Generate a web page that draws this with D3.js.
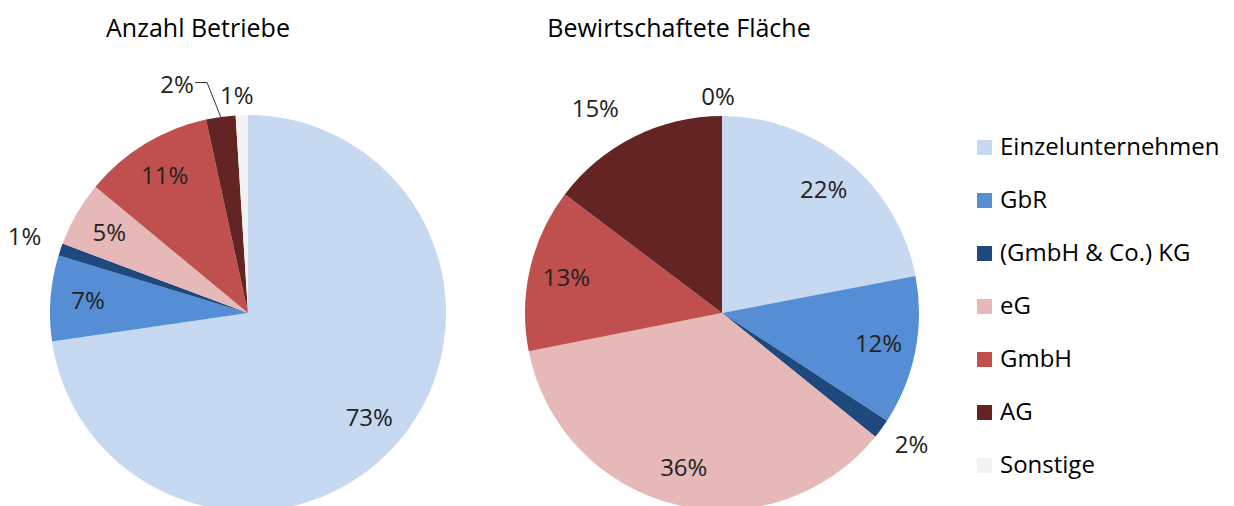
<!DOCTYPE html>
<html>
<head>
<meta charset="utf-8">
<script src="https://cdn.jsdelivr.net/npm/d3@7"></script>
<style>
  body { margin: 0; background: #fff; }
  svg { display: block; font-family: "Open Sans", "Noto Sans", sans-serif; }
  .title { font-size: 25px; fill: #000; }
  .lbl { font-size: 24px; fill: #222; }
  .legend text { font-size: 24px; fill: #000; }
</style>
</head>
<body>
<svg width="1234" height="506"></svg>
<script>
// categories (legend order = slice order, clockwise from 12 o'clock)
const categories = ["Einzelunternehmen", "GbR", "(GmbH & Co.) KG", "eG", "GmbH", "AG", "Sonstige"];
const colors = ["#c6d9f1", "#558ed5", "#1f497d", "#e6b9b8", "#c0504d", "#632423", "#f2f2f2"];

// shares in percent
const betriebe = [72.7, 7.0, 1.0, 5.3, 10.6, 2.4, 1.0];
const flaeche = [22.0, 12.2, 1.6, 36.1, 13.4, 14.7, 0.0];

const titles = ["Anzahl Betriebe", "Bewirtschaftete Fläche"];

let svg = d3.select("svg");

// layout: where each pie goes and which labels sit outside (with nudges)
let pies = [
  { title: titles[0], values: betriebe, cx: 248, cy: 313, r: 198, titleX: 198,
    outside: { 2: [-4, -2], 5: [-39, 1], 6: [-4, 14] }, leader: [5] },
  { title: titles[1], values: flaeche, cx: 722, cy: 313, r: 197, titleX: 679,
    outside: { 2: [3, -4], 5: [-24, 2], 6: [-4, 14] }, leader: [] }
];

let pie = d3.pie().sort(null).value(d => d).startAngle(0).endAngle(2 * Math.PI);

pies.forEach(function(p) {
  let g = svg.append("g").attr("transform", "translate(" + p.cx + "," + p.cy + ")");

  let arcs = pie(p.values);
  let arc = d3.arc().innerRadius(0).outerRadius(p.r);
  let inArc = d3.arc().innerRadius(p.r * 0.81).outerRadius(p.r * 0.81);
  let outArc = d3.arc().innerRadius(p.r * 1.17).outerRadius(p.r * 1.17);
  let edgeArc = d3.arc().innerRadius(p.r).outerRadius(p.r);

  g.selectAll("path.slice")
    .data(arcs)
    .enter().append("path")
    .attr("class", "slice")
    .attr("d", arc)
    .attr("fill", (d, i) => colors[i]);

  // percent labels
  arcs.forEach(function(d, i) {
    let pos, off = p.outside[i];
    if (off) {
      pos = outArc.centroid(d);
      pos = [pos[0] + off[0], pos[1] + off[1]];
    } else {
      pos = inArc.centroid(d);
    }
    g.append("text")
      .attr("class", "lbl")
      .attr("x", pos[0])
      .attr("y", pos[1])
      .attr("dy", "0.35em")
      .attr("text-anchor", "middle")
      .text(Math.round(d.value) + "%");

    if (p.leader.indexOf(i) >= 0) {
      let e = edgeArc.centroid(d);
      let sx = pos[0] + 18, sy = pos[1] - 2;
      g.append("polyline")
        .attr("points", [[sx, sy], [sx + 12, sy], [e[0], e[1]]].map(q => q.join(",")).join(" "))
        .attr("fill", "none")
        .attr("stroke", "#333")
        .attr("stroke-width", 1);
    }
  });

  svg.append("text")
    .attr("class", "title")
    .attr("x", p.titleX)
    .attr("y", 37)
    .attr("text-anchor", "middle")
    .text(p.title);
});

// legend
let legend = svg.append("g").attr("class", "legend").attr("transform", "translate(977,147)");
let rowScale = d3.scalePoint().domain(categories).range([0, 318]);

let rows = legend.selectAll("g")
  .data(categories)
  .enter().append("g")
  .attr("transform", d => "translate(0," + rowScale(d) + ")");

rows.append("rect")
  .attr("x", 0).attr("y", -7)
  .attr("width", 15).attr("height", 15)
  .attr("fill", (d, i) => colors[i]);

rows.append("text")
  .attr("x", 23)
  .attr("dy", "0.35em")
  .text(d => d);
</script>
</body>
</html>
